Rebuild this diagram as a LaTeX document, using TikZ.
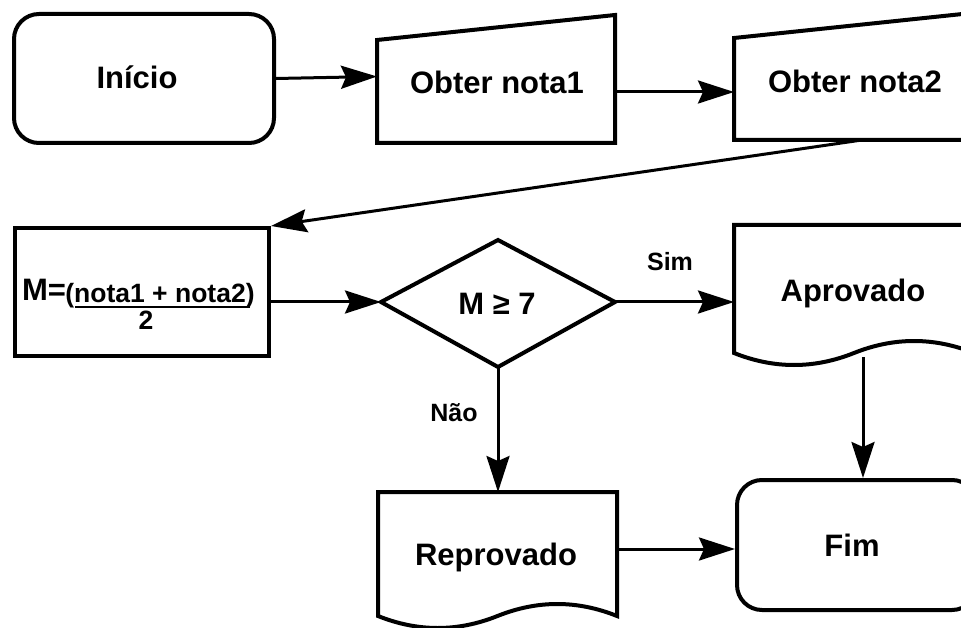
\documentclass[tikz,border=0pt]{standalone}
\usepackage{fontspec}
\setmainfont{Liberation Sans}
\usetikzlibrary{arrows.meta}
\begin{document}
\begin{tikzpicture}[x=1pt,y=-1pt,
  shapeline/.style={draw=black,line width=4pt,line join=miter,fill=white},
  conn/.style={draw=black,line width=3pt,-{Stealth[length=36pt,width=23pt,inset=5pt]}},
  lbl/.style={font=\fontsize{31}{36}\selectfont\bfseries,inner sep=0pt},
  frac/.style={font=\fontsize{26.5}{30}\selectfont\bfseries,inner sep=0pt},
  small/.style={font=\fontsize{25}{29}\selectfont\bfseries,inner sep=0pt}]
\useasboundingbox (0,0) rectangle (961,628);
\clip (0,0) rectangle (961,628);
\fill[white] (0,0) rectangle (961,628);

% Inicio
\node[shapeline,rounded corners=25pt,minimum width=260pt,minimum height=129pt,anchor=north west,inner sep=0pt] (inicio) at (12,12) {};
\node[lbl] (tinicio) at (137,77) {Início};

% Obter nota1
\draw[shapeline] (377,40) -- (615,15) -- (615,143) -- (377,143) -- cycle;
\node[lbl] (tn1) at (497,82) {Obter nota1};
\coordinate (n1w) at (377,76.5);
\coordinate (n1e) at (615,92);

% Obter nota2
\draw[shapeline] (734,38) -- (972,13) -- (972,140) -- (734,140) -- cycle;
\node[lbl] (tn2) at (855,81) {Obter nota2};
\coordinate (n2w) at (734,92);
\coordinate (n2s) at (862,140);

% Formula
\node[shapeline,minimum width=254pt,minimum height=128pt,anchor=north west,inner sep=0pt] (form) at (13,226) {};
\node[lbl] (tm) at (44,290) {M=};
\node[frac] (tnum) at (160,296) {(nota1 + nota2)};
\draw[line width=2pt] (75,307) -- (250,307);
\node[frac] (tden) at (146,320) {2};
\coordinate (fe) at (267,302);

% Decision
\draw[shapeline] (381,302) -- (498,240) -- (615,302) -- (498,367) -- cycle;
\node[lbl] (td) at (497,304) {M ≥ 7};
\coordinate (dw) at (381,302);
\coordinate (de) at (615,302);
\coordinate (ds) at (498,367);

% Aprovado
\draw[shapeline] (734,353) -- (734,225) -- (974,225) -- (974,353)
  .. controls (934,337) and (894,337) .. (854,353)
  .. controls (814,369) and (774,369) .. (734,353) -- cycle;
\node[lbl] (tap) at (853,293) {Aprovado};
\coordinate (apw) at (734,302);
\coordinate (aps) at (863,357);

% Reprovado
\draw[shapeline] (378,616) -- (378,492) -- (617,492) -- (617,616)
  .. controls (577,600) and (537.5,600) .. (497.5,616)
  .. controls (457.5,632) and (418,632) .. (378,616) -- cycle;
\node[lbl] (trep) at (496,557) {Reprovado};
\coordinate (repn) at (498,492);
\coordinate (repe) at (619,549);

% Fim
\node[shapeline,rounded corners=25pt,minimum width=240pt,minimum height=130pt,anchor=north west,inner sep=0pt] (fim) at (735,478) {};
\node[lbl] (tfim) at (852,545) {Fim};
\coordinate (fimn) at (863,478);
\coordinate (fimw) at (735,549);

% Connectors
\draw[conn] (inicio.east) -- (n1w);
\draw[conn] (n1e) -- (n2w);
\draw[conn] (n2s) -- (form.north east);
\draw[conn] (fe) -- (dw);
\draw[conn] (de) -- (apw);
\draw[conn] (ds) -- (repn);
\draw[conn] (aps) -- (fimn);
\draw[conn] (repe) -- (fimw);

% Labels
\node[small] (lsim) at (670,262) {Sim};
\node[small] (lnao) at (454,413) {Não};
\end{tikzpicture}
\end{document}
